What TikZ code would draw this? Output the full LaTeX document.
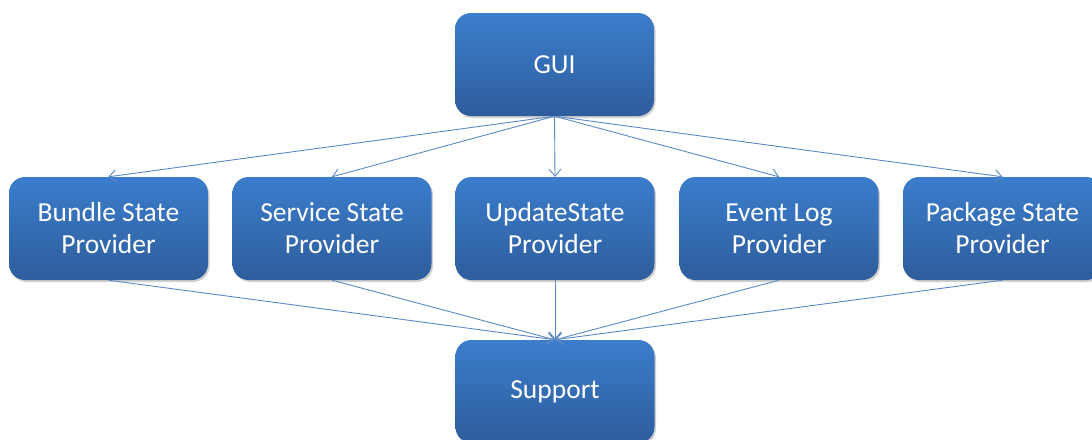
\documentclass[tikz,border=0pt]{standalone}
\usepackage{fontspec}
\setmainfont{Carlito}
\usetikzlibrary{shadows,arrows.meta}
\definecolor{boxtop}{HTML}{3B7DCC}
\definecolor{boxbot}{HTML}{2E5D9C}
\definecolor{linec}{HTML}{5A8AC6}
\begin{document}
\begin{tikzpicture}[x=1pt,y=-1pt,
  blk/.style={rounded corners=16pt, minimum width=199pt, minimum height=103pt,
    top color=boxtop, bottom color=boxbot, draw=none, text=white,
    font=\fontsize{27.5}{32}\selectfont, align=center,
    drop shadow={shadow xshift=1.5pt, shadow yshift=-2pt, opacity=0.3, fill=black!60}},
  conn/.style={draw=linec, line width=0.9pt, -{Straight Barb[length=7pt,width=12pt]}}]
\useasboundingbox (0,0) rectangle (1092,439);
\node[blk] (gui) at (554.5,64.5) {GUI};
\node[blk] (bsp) at (108.5,228.5) {Bundle State\\Provider};
\node[blk] (ssp) at (332,228.5) {Service State\\Provider};
\node[blk] (usp) at (555,228.5) {UpdateState\\Provider};
\node[blk] (elp) at (779,228.5) {Event Log\\Provider};
\node[blk] (psp) at (1002.5,228.5) {Package State\\Provider};
\node[blk] (sup) at (555,391.5) {Support};
\foreach \n in {bsp,ssp,usp,elp,psp}{
  \draw[conn] (gui.south) -- (\n.north);
  \draw[conn] (\n.south) -- (sup.north);
}
\end{tikzpicture}
\end{document}
